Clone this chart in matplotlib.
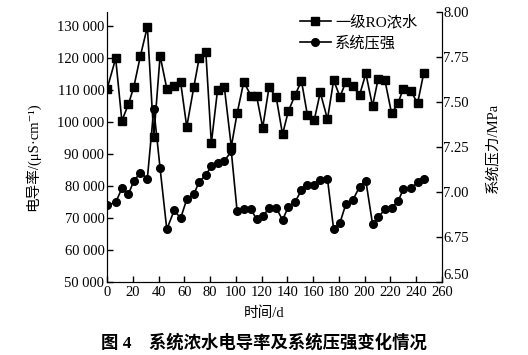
import matplotlib
matplotlib.use("Agg")
import matplotlib.pyplot as plt
from matplotlib.ticker import FuncFormatter

plt.rcParams['font.family'] = ['Liberation Serif', 'Noto Sans CJK SC', 'DejaVu Serif']

# 时间/d
days = [0, 6.6, 11.4, 16.5, 20.7, 25.8, 31.2, 36.2, 41.1, 46.3,
        52.1, 57.0, 61.8, 67.3, 71.4, 76.6, 80.9, 85.7, 91.0, 96.4,
        100.9, 106.1, 111.7, 116.0, 120.8, 125.7, 131.3, 136.2, 140.7, 145.9,
        150.9, 155.5, 160.8, 165.5, 171.1, 175.9, 180.8, 185.4, 190.8, 196.0,
        200.9, 206.1, 210.4, 215.7, 220.9, 226.0, 229.9, 235.7, 241.1, 245.9]

# 一级RO浓水 电导率 (μS/cm)
conductivity = [110400, 119800, 100300, 105500, 110900, 120600, 129700, 95300, 120600, 110400,
                111200, 112500, 98400, 110900, 119800, 121900, 93300, 109900, 110800, 92200,
                102600, 112500, 108100, 108100, 98200, 110800, 107600, 96100, 103300, 108300,
                112800, 102100, 100500, 109200, 100800, 113000, 107800, 112500, 111200, 108300,
                115100, 104900, 113300, 113000, 102600, 105800, 110400, 109700, 105800, 115300]

# 系统压强 (MPa)
pressure = [6.926, 6.941, 7.019, 6.987, 7.061, 7.106, 7.074, 7.463, 7.130, 6.791,
            6.898, 6.852, 6.958, 6.986, 7.056, 7.093, 7.144, 7.163, 7.171, 7.226,
            6.893, 6.902, 6.902, 6.848, 6.865, 6.908, 6.911, 6.843, 6.917, 6.944,
            7.009, 7.037, 7.037, 7.065, 7.071, 6.791, 6.828, 6.932, 6.954, 7.028,
            7.061, 6.821, 6.858, 6.902, 6.911, 6.948, 7.013, 7.019, 7.052, 7.074]

fs = 10.5

fig = plt.figure(figsize=(5.28, 3.55), dpi=100)
ax = fig.add_axes([0.203, 0.2065, 0.634, 0.7595])
ax2 = ax.twinx()

l1, = ax.plot(days, conductivity, '-s', color='black', lw=1.2, ms=5.5)
l2, = ax2.plot(days, pressure, '-o', color='black', lw=1.2, ms=5.5)

ax.set_xlim(0, 260)
ax.set_ylim(50000, 134300)
ax2.set_ylim(6.5, 8.0)

ax.set_xticks(range(0, 261, 20))
ax.set_yticks(range(50000, 130001, 10000))
ax2.set_yticks([6.5, 6.75, 7.0, 7.25, 7.5, 7.75, 8.0])
ax.yaxis.set_major_formatter(FuncFormatter(lambda v, p: f"{int(v):,}".replace(',', ' ')))
ax2.yaxis.set_major_formatter(FuncFormatter(lambda v, p: f"{v:.2f}"))

for a in (ax, ax2):
    a.spines['top'].set_visible(False)
    a.tick_params(direction='in', length=4, width=1, labelsize=fs, pad=2)
ax.tick_params(axis='x', pad=3)
ax2.tick_params(axis='y', pad=1)
# 6.50 稍微上移, 避免与 260 重叠
ax2.get_yticklabels()[0].set_va('bottom')

fig.text(0.5, 0.118, '时间/d', ha='center', va='center', fontsize=fs)
fig.text(0.062, 0.56, '电导率/(μS·cm⁻¹)', rotation=90, ha='center', va='center', fontsize=fs)
fig.text(0.932, 0.583, '系统压力/MPa', rotation=90, ha='center', va='center', fontsize=fs)
fig.text(0.5, 0.034, '图 4　系统浓水电导率及系统压强变化情况', ha='center', va='center',
         fontsize=12.5, fontweight='bold')

ax.legend([l1, l2], ['一级RO浓水', '系统压强'], loc='upper right', frameon=False,
          fontsize=11, handlelength=2.0, handletextpad=0.3, borderaxespad=0.1,
          labelspacing=0.45, bbox_to_anchor=(0.95, 1.02))

fig.savefig('out.png', dpi=100)
